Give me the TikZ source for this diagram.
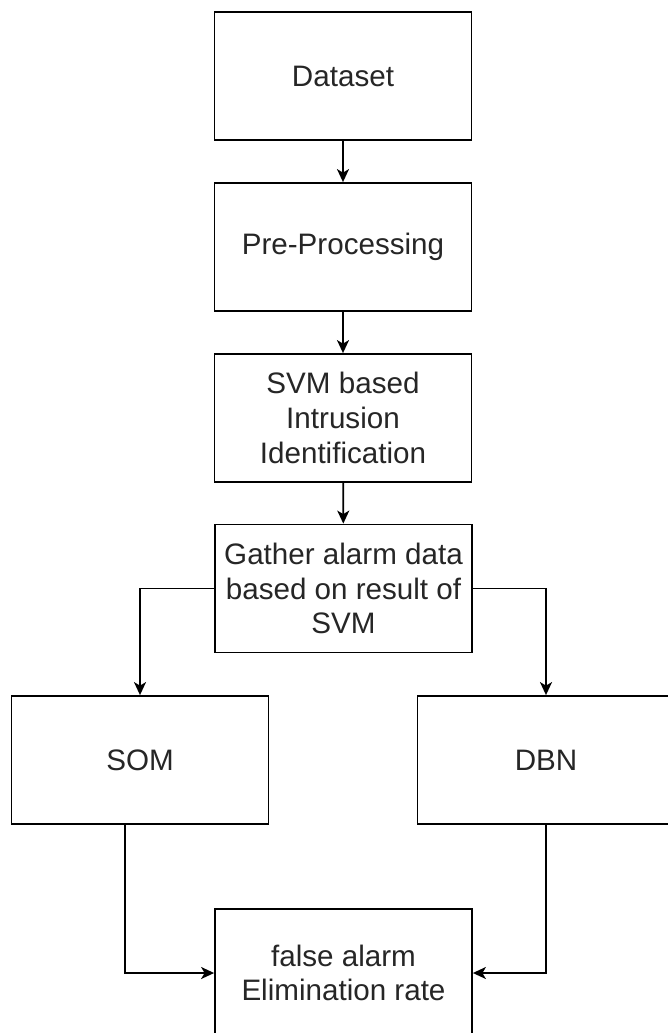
\documentclass[tikz,border=0pt]{standalone}
\usepackage{fontspec}
\setmainfont{Liberation Sans}
\usetikzlibrary{arrows.meta,calc}
\begin{document}
\begin{tikzpicture}[x=1pt,y=-1pt,
  box/.style={draw=black, line width=1.8pt, fill=white, minimum width=257pt, minimum height=128pt,
    inner sep=0pt, align=center, text=black!85, font=\fontsize{29.6}{34.8}\selectfont},
  conn/.style={draw=black, line width=1.8pt, -{Stealth[length=13pt,width=12pt,inset=3.5pt]}}]
\useasboundingbox (0,0) rectangle (668,1033);
\clip (0,0) rectangle (668,1033);
\node[box] (ds) at (343,76) {Dataset};
\node[box] (pp) at (343,247) {Pre-Processing};
\node[box] (svm) at (343,418) {SVM based\\Intrusion\\Identification};
\node[box] (ga) at (343.5,588.5) {Gather alarm data\\based on result of\\SVM};
\node[box] (som) at (140,760) {SOM};
\node[box] (dbn) at (546,760) {DBN};
\node[box] (fa) at (343.5,973) {false alarm\\Elimination rate};
\draw[conn] (ds) -- (pp);
\draw[conn] (pp) -- (svm);
\draw[conn] (svm) -- (ga);
\draw[conn] (ga.west) -| (som.north);
\draw[conn] (ga.east) -| (dbn.north);
\draw[conn] ([xshift=-15pt]som.south) |- (fa.west);
\draw[conn] (dbn.south) |- (fa.east);
\end{tikzpicture}
\end{document}
